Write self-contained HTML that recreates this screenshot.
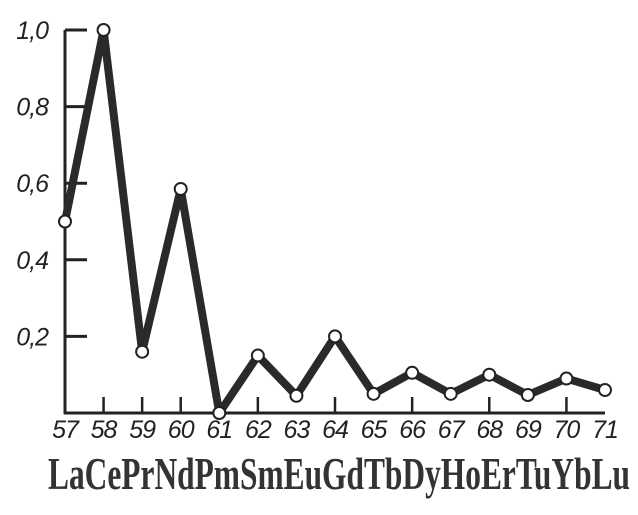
<!DOCTYPE html>
<html><head><meta charset="utf-8"><style>
html,body{margin:0;padding:0;background:#fff;}
svg{display:block;}
</style></head><body>
<svg id="chart" width="638" height="515" viewBox="0 0 638 515" xmlns="http://www.w3.org/2000/svg">
<g id="axes"></g><g id="series"></g><g id="labels"></g>
</svg>
<script>
const atomicNumbers = [57,58,59,60,61,62,63,64,65,66,67,68,69,70,71];
const elements = ["La","Ce","Pr","Nd","Pm","Sm","Eu","Gd","Tb","Dy","Ho","Er","Tu","Yb","Lu"];
const values = [0.5,1.0,0.16,0.585,0.0,0.15,0.045,0.2,0.05,0.105,0.05,0.10,0.047,0.09,0.06];
const yTicks = [0.2,0.4,0.6,0.8,1.0];
const yTickLabels = ["0,2","0,4","0,6","0,8","1,0"];
const upTicks = [58,59,60,62,64,66,68,70];

const NS="http://www.w3.org/2000/svg";
const X0=65,X1=605,Y0=413,Y1=30;
function xs(n){return X0+(n-57)*(X1-X0)/14;}
function ys(v){return Y0-v*(Y0-Y1);}
function mk(tag,attrs,parent,text){const e=document.createElementNS(NS,tag);for(const k in attrs)e.setAttribute(k,attrs[k]);if(text!==undefined)e.textContent=text;parent.appendChild(e);return e;}
const axes=document.getElementById('axes'),series=document.getElementById('series'),labels=document.getElementById('labels');

let ya=mk('line',{x1:X0,y1:Y1,x2:X0,y2:Y0+1,stroke:'#222','stroke-width':3},axes);


let xa=mk('line',{x1:X0-1,y1:Y0,x2:X1,y2:Y0,stroke:'#222','stroke-width':3},axes);



yTicks.forEach((v,i)=>{
  const t=mk('line',{x1:X0,y1:ys(v),x2:X0+22,y2:ys(v),stroke:'#222','stroke-width':3},axes);
  
  
  const l=mk('text',{x:X0-17,y:ys(v)+9,'text-anchor':'end','font-family':'Liberation Sans, sans-serif','font-style':'italic','font-size':25,fill:'#222','letter-spacing':'-1'},labels,yTickLabels[i]);
  
  
});
upTicks.forEach(n=>{
  const t=mk('line',{x1:xs(n),y1:Y0,x2:xs(n),y2:Y0-16,stroke:'#222','stroke-width':2.5},axes);
  
  
});
atomicNumbers.forEach(n=>{
  const l=mk('text',{x:xs(n),y:438,'text-anchor':'middle','font-family':'Liberation Sans, sans-serif','font-style':'italic','font-size':25,fill:'#222','letter-spacing':'-1'},labels,String(n));
  
  
});
const el=mk('text',{x:48,y:489,'font-family':'Liberation Serif, serif','font-weight':'bold','font-size':46,fill:'#333',textLength:582,lengthAdjust:'spacingAndGlyphs'},labels,elements.join(''));



const pts=atomicNumbers.map((n,i)=>xs(n)+','+ys(values[i])).join(' ');
const line=mk('polyline',{points:pts,fill:'none',stroke:'#2a2a2a','stroke-width':8,'stroke-linejoin':'round'},series);


atomicNumbers.forEach((n,i)=>{
  const c=mk('circle',{cx:xs(n),cy:ys(values[i]),r:6,fill:'#fff',stroke:'#222','stroke-width':2},series);
  
  
});
</script>
</body></html>
